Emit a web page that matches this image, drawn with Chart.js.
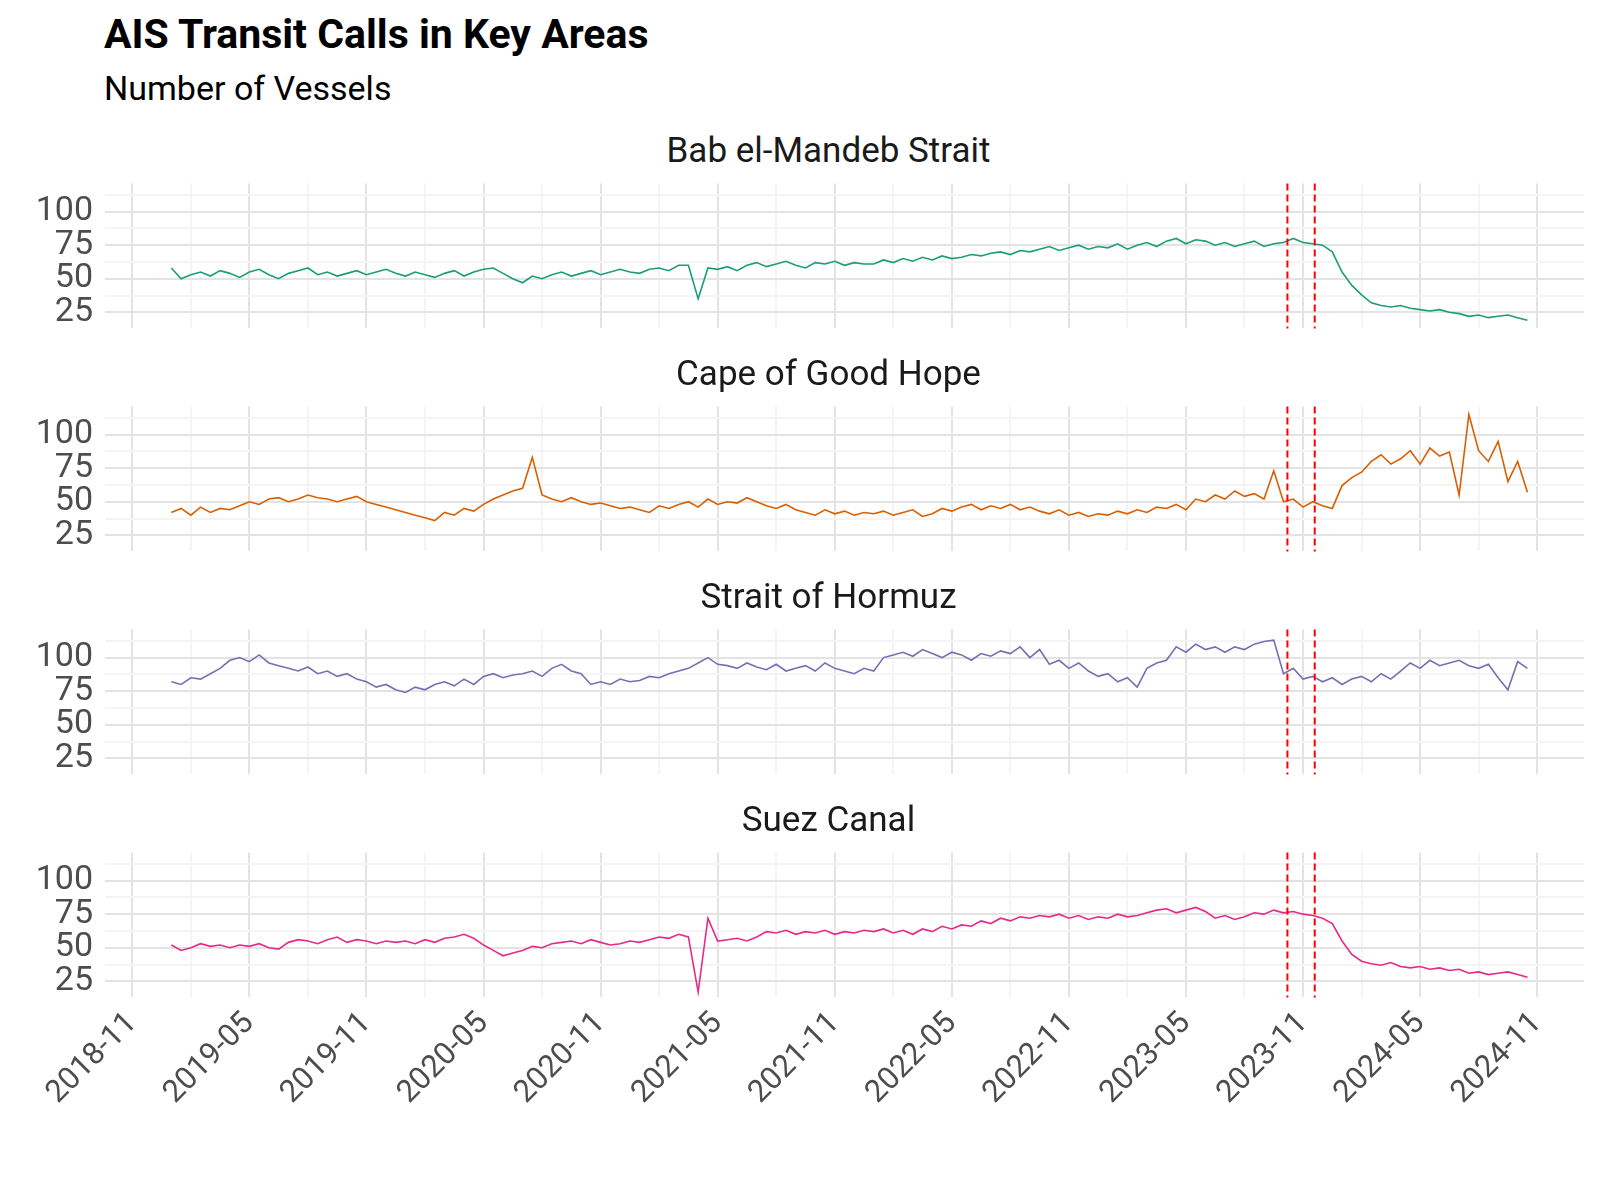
<!DOCTYPE html>
<html><head><meta charset="utf-8">
<script src="https://cdn.jsdelivr.net/npm/chart.js@4"></script>
<style>
body{margin:0;width:1600px;height:1200px;background:#fff;font-family:Roboto,sans-serif;position:relative;overflow:hidden}
.t{position:absolute;white-space:nowrap;color:#000}
.ft{position:absolute;left:105px;width:1447px;text-align:center;font-size:35px;color:#1a1a1a;transform:translateY(-50%)}
.cw{position:absolute;left:0;width:1600px}
</style></head><body>
<div class="t" style="left:104px;top:10px;font-size:41px;font-weight:bold">AIS Transit Calls in Key Areas</div>
<div class="t" style="left:104px;top:68px;font-size:34px">Number of Vessels</div>
<div id="root"></div>
<script>
// Time axis: months since 2018-11-01; series are semi-monthly from 2019-01-01
const panelNames = ["Bab el-Mandeb Strait","Cape of Good Hope","Strait of Hormuz","Suez Canal"];
const colors = ["#1b9e77","#d95f02","#7570b3","#e7298a"];
const startMonth = 2, stepMonth = 0.5;
const eventMonths = [59.2, 60.6]; // 2023-10-07, 2023-11-19
const xTickLabels = ["2018-11","2019-05","2019-11","2020-05","2020-11","2021-05","2021-11","2022-05","2022-11","2023-05","2023-11","2024-05","2024-11"];
const yTicks = [25,50,75,100];

const babElMandeb = [
58,50,53,55,52,56,54,51,55,57,53,50,54,56,58,53,55,52,54,56,53,55,57,54,
52,55,53,51,54,56,52,55,57,58,54,50,47,52,50,53,55,52,54,56,53,55,57,55,
54,57,58,56,60,60,35,58,57,59,56,60,62,59,61,63,60,58,62,61,63,60,62,61,
61,64,62,65,63,66,64,67,65,66,68,67,69,70,68,71,70,72,74,71,73,75,72,74,
73,76,72,75,77,74,78,80,76,79,78,75,77,74,76,78,74,76,77,80,77,76,75,70,
55,45,38,32,30,29,30,28,27,26,27,25,24,22,23,21,22,23,21,19];
const capeOfGoodHope = [
42,45,40,46,42,45,44,47,50,48,52,53,50,52,55,53,52,50,52,54,50,48,46,44,
42,40,38,36,42,40,45,43,48,52,55,58,60,83,55,52,50,53,50,48,49,47,45,46,
44,42,47,45,48,50,46,52,48,50,49,53,50,47,45,48,44,42,40,44,41,43,40,42,
41,43,40,42,44,39,41,45,43,46,48,44,47,45,48,44,46,43,41,44,40,42,39,41,
40,43,41,44,42,46,45,48,44,52,50,55,52,58,54,56,52,73,50,52,46,50,47,45,
62,68,72,80,85,78,82,88,78,90,84,87,55,115,88,80,95,65,80,57];
const straitOfHormuz = [
82,80,85,84,88,92,98,100,97,102,96,94,92,90,93,88,90,86,88,84,82,78,80,76,
74,78,76,80,82,79,84,80,86,88,85,87,88,90,86,92,95,90,88,80,82,80,84,82,
83,86,85,88,90,92,96,100,95,94,92,96,93,91,95,90,92,94,90,96,92,90,88,92,
90,100,102,104,101,106,103,100,104,102,98,103,101,105,103,108,100,106,95,98,92,96,90,86,
88,82,85,78,92,96,98,108,104,110,106,108,104,108,106,110,112,113,88,92,84,86,82,85,
80,84,86,82,88,84,90,96,92,98,94,96,98,94,92,95,85,76,97,92];
const suezCanal = [
52,48,50,53,51,52,50,52,51,53,50,49,54,56,55,53,56,58,54,56,55,53,55,54,
55,53,56,54,57,58,60,57,52,48,44,46,48,51,50,53,54,55,53,56,54,52,53,55,
54,56,58,57,60,58,17,72,55,56,57,55,58,62,61,63,60,62,61,63,60,62,61,63,
62,64,61,63,60,64,62,66,64,67,66,70,68,72,70,73,72,74,73,75,72,74,71,73,
72,75,73,74,76,78,79,76,78,80,77,72,74,71,73,76,75,78,76,77,75,74,72,68,
55,45,40,38,37,39,36,35,36,34,35,33,34,31,32,30,31,32,30,28];
const seriesList = [babElMandeb, capeOfGoodHope, straitOfHormuz, suezCanal];

const panelTops = [183,406,629,852], plotH = 145, titleY = [150,373,596,819];
const root = document.getElementById('root');

const eventPlugin = {
  id:'ev',
  afterDatasetsDraw(chart){
    const {ctx, chartArea:a, scales:{x}} = chart;
    ctx.save(); ctx.strokeStyle='#ff0000'; ctx.lineWidth=2; ctx.setLineDash([7,4]);
    eventMonths.forEach(m=>{const px=x.getPixelForValue(m);
      ctx.beginPath(); ctx.moveTo(px,a.top); ctx.lineTo(px,a.bottom); ctx.stroke();});
    ctx.restore();
  }
};

panelNames.forEach((name,i)=>{
  const ft=document.createElement('div'); ft.className='ft'; ft.style.top=titleY[i]+'px'; ft.textContent=name; root.appendChild(ft);
  const last = i===3;
  const xH = last?150:0;
  let h = plotH + xH;
  const w=document.createElement('div'); w.className='cw'; w.style.top=panelTops[i]+'px'; w.style.height=h+'px';
  const c=document.createElement('canvas'); w.appendChild(c); root.appendChild(w);
  const data = seriesList[i].map((v,k)=>({x:startMonth+k*stepMonth,y:v}));
  const chart = new Chart(c,{
    type:'line',
    data:{datasets:[{data,borderColor:colors[i],borderWidth:1.6,pointRadius:0,tension:0}]},
    options:{
      animation:false,responsive:true,maintainAspectRatio:false,
      layout:{padding:{left:0,right:16,top:0,bottom:0}},
      plugins:{legend:{display:false},tooltip:{enabled:false}},
      scales:{
        x:{type:'linear',min:-1.4,max:74.4,border:{display:false},
          afterBuildTicks(s){const t=[];for(let m=0;m<=72;m+=3)t.push({value:m});s.ticks=t;},
          afterFit(s){s.height= xH;},
          grid:{color:ctx=>(ctx.tick&&ctx.tick.value%6===0)?'#e3e3e3':'#f4f4f4',lineWidth:2,drawTicks:false},
          ticks:{display:last,autoSkip:false,maxRotation:45,minRotation:45,padding:8,color:'#4d4d4d',
            font:{family:'Roboto',size:31},
            callback:v=>v%6===0?xTickLabels[v/6]:''}},
        y:{min:13,max:121,border:{display:false},
          afterBuildTicks(s){s.ticks=[25,37.5,50,62.5,75,87.5,100,112.5].map(v=>({value:v}));},
          afterFit(s){s.width=105;},
          grid:{color:ctx=>(ctx.tick&&ctx.tick.value%25===0)?'#e3e3e3':'#f4f4f4',lineWidth:2,drawTicks:false},
          ticks:{autoSkip:false,padding:12,color:'#4d4d4d',font:{family:'Roboto',size:34},
            callback:v=>yTicks.includes(v)?String(v):''}}
      }
    },
    plugins:[eventPlugin]
  });
  // adjust wrapper so the plot area sits exactly at the panel position
  const a = chart.chartArea;
  const topPad = a.top, botPad = h - a.bottom - xH;
  const newH = plotH + xH + topPad + Math.max(0,botPad);
  w.style.top = (panelTops[i]-topPad)+'px';
  w.style.height = newH+'px';
  chart.resize();
});
</script>
</body></html>
